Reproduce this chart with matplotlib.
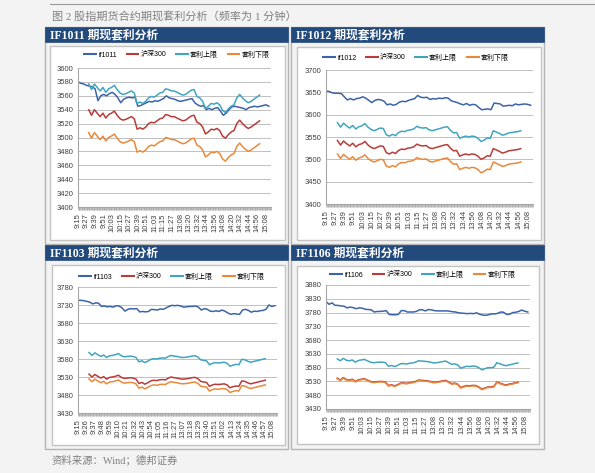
import numpy as np
import pandas as pd
import matplotlib
matplotlib.use("Agg")
import matplotlib.pyplot as plt
from matplotlib.patches import Rectangle
from matplotlib.lines import Line2D

plt.rcParams["font.family"] = ["Liberation Sans", "Noto Sans CJK SC"]

W, H = 595, 473

# trading minutes: 9:15-11:30 and 13:00-15:15
am = pd.date_range("2010-10-15 09:15", "2010-10-15 11:30", freq="min")
pm = pd.date_range("2010-10-15 13:00", "2010-10-15 15:15", freq="min")
times = [f"{t.hour}:{t.minute:02d}" for t in am.append(pm)]

fut_pos = np.arange(0, len(times), 4)   # futures, every 4 min
spot_pos = np.arange(15, 257, 4)        # spot 9:30 - 15:00, every 4 min

# ---- IF1011 ----
if1011 = [3580, 3578, 3577, 3575, 3574, 3573, 3570, 3553, 3560, 3562,
          3560, 3563, 3565, 3562, 3557, 3550, 3555, 3557, 3558, 3557,
          3558, 3545, 3546, 3548, 3550, 3552, 3551, 3553, 3552, 3554,
          3556, 3560, 3557, 3556, 3555, 3553, 3552, 3553, 3554, 3555,
          3556, 3550, 3547, 3545, 3546, 3540, 3542, 3540, 3542, 3543,
          3538, 3532, 3535, 3540, 3544, 3545, 3544, 3543, 3542, 3540,
          3543, 3544, 3545, 3544, 3545, 3546, 3547, 3545]
hs300_1 = [3540, 3532, 3540, 3535, 3530, 3535, 3528, 3533, 3535, 3538,
           3532, 3527, 3525, 3526, 3528, 3530, 3527, 3512, 3514, 3512,
           3515, 3520, 3522, 3521, 3524, 3527, 3528, 3533, 3532, 3530,
           3530, 3528, 3526, 3524, 3525, 3528, 3531, 3532, 3522, 3520,
           3515, 3505, 3508, 3512, 3511, 3513, 3510, 3502, 3499, 3504,
           3508, 3510, 3520, 3525, 3520, 3516, 3513, 3515, 3518, 3521,
           3524]
up_1 = [3577, 3569, 3577, 3572, 3567, 3572, 3565, 3570, 3572, 3575,
        3569, 3564, 3562, 3563, 3565, 3567, 3564, 3549, 3551, 3549,
        3552, 3557, 3559, 3558, 3561, 3564, 3565, 3570, 3569, 3567,
        3567, 3565, 3563, 3561, 3562, 3565, 3568, 3569, 3559, 3557,
        3552, 3542, 3545, 3549, 3548, 3550, 3547, 3539, 3536, 3541,
        3545, 3547, 3557, 3562, 3557, 3553, 3550, 3552, 3555, 3558,
        3561]
low_1 = [3507, 3499, 3507, 3502, 3497, 3502, 3495, 3500, 3502, 3505,
         3499, 3494, 3492, 3493, 3495, 3497, 3494, 3479, 3481, 3479,
         3482, 3487, 3489, 3488, 3491, 3494, 3495, 3500, 3499, 3497,
         3497, 3495, 3493, 3491, 3492, 3495, 3498, 3499, 3489, 3487,
         3482, 3472, 3475, 3479, 3478, 3480, 3477, 3469, 3466, 3471,
         3475, 3477, 3487, 3492, 3487, 3483, 3480, 3482, 3485, 3488,
         3491]

# ---- IF1012 ----
if1012 = [3653, 3652, 3649, 3648, 3648, 3647, 3640, 3633, 3636, 3633,
          3636, 3637, 3640, 3637, 3632, 3627, 3632, 3634, 3633, 3630,
          3622, 3624, 3621, 3623, 3628, 3630, 3629, 3632, 3634, 3636,
          3643, 3639, 3638, 3639, 3634, 3636, 3635, 3637, 3636, 3638,
          3637, 3631, 3629, 3627, 3624, 3622, 3625, 3621, 3623, 3622,
          3616, 3611, 3612, 3613, 3611, 3626, 3625, 3624, 3619, 3620,
          3621, 3620, 3624, 3622, 3623, 3624, 3623, 3621]
hs300_2 = [3542, 3532, 3541, 3535, 3530, 3536, 3528, 3533, 3535, 3540,
           3532, 3527, 3524, 3527, 3530, 3529, 3515, 3512, 3516, 3513,
           3520, 3523, 3522, 3525, 3526, 3528, 3534, 3531, 3530, 3531,
           3526, 3524, 3526, 3528, 3530, 3532, 3533, 3525, 3519, 3520,
           3507, 3510, 3512, 3510, 3512, 3511, 3507, 3500, 3503, 3508,
           3507, 3524, 3521, 3518, 3514, 3516, 3519, 3520, 3521, 3522,
           3524]
up_2 = [3582, 3572, 3581, 3575, 3570, 3576, 3568, 3573, 3575, 3580,
        3572, 3567, 3564, 3567, 3570, 3569, 3555, 3552, 3556, 3553,
        3560, 3563, 3562, 3565, 3566, 3568, 3574, 3571, 3570, 3571,
        3566, 3564, 3566, 3568, 3570, 3572, 3573, 3565, 3559, 3560,
        3547, 3550, 3552, 3550, 3552, 3551, 3547, 3540, 3543, 3548,
        3547, 3564, 3561, 3558, 3554, 3556, 3559, 3560, 3561, 3562,
        3564]
low_2 = [3512, 3502, 3511, 3505, 3500, 3506, 3498, 3503, 3505, 3510,
         3502, 3497, 3494, 3497, 3500, 3499, 3485, 3482, 3486, 3483,
         3490, 3493, 3492, 3495, 3496, 3498, 3504, 3501, 3500, 3501,
         3496, 3494, 3496, 3498, 3500, 3502, 3503, 3495, 3489, 3490,
         3477, 3480, 3482, 3480, 3482, 3481, 3477, 3470, 3473, 3478,
         3477, 3494, 3491, 3488, 3484, 3486, 3489, 3490, 3491, 3492,
         3494]

# ---- IF1103 ----
if1103 = [3743, 3743, 3742, 3740, 3738, 3733, 3736, 3735, 3726, 3727,
          3725, 3726, 3724, 3728, 3727, 3722, 3713, 3718, 3720, 3719,
          3720, 3711, 3712, 3711, 3712, 3718, 3717, 3716, 3719, 3718,
          3722, 3726, 3729, 3728, 3729, 3727, 3724, 3725, 3726, 3726,
          3727, 3724, 3716, 3720, 3718, 3713, 3712, 3714, 3712, 3716,
          3713, 3708, 3704, 3706, 3705, 3704, 3716, 3718, 3715, 3710,
          3713, 3712, 3714, 3715, 3718, 3730, 3726, 3728]
hs300_3 = [3538, 3530, 3537, 3532, 3527, 3531, 3524, 3529, 3530, 3532,
           3535, 3529, 3526, 3527, 3528, 3527, 3524, 3512, 3515, 3510,
           3514, 3519, 3521, 3520, 3522, 3523, 3522, 3527, 3530, 3528,
           3527, 3525, 3524, 3525, 3526, 3528, 3529, 3526, 3518, 3516,
           3515, 3504, 3508, 3510, 3509, 3510, 3511, 3508, 3500, 3503,
           3505, 3504, 3519, 3518, 3514, 3511, 3513, 3515, 3517, 3519,
           3521]
up_3 = [3598, 3590, 3597, 3592, 3587, 3591, 3584, 3589, 3590, 3592,
        3595, 3589, 3586, 3587, 3588, 3587, 3584, 3572, 3575, 3570,
        3574, 3579, 3581, 3580, 3582, 3583, 3582, 3587, 3590, 3588,
        3587, 3585, 3584, 3585, 3586, 3588, 3589, 3586, 3578, 3576,
        3575, 3564, 3568, 3570, 3569, 3570, 3571, 3568, 3560, 3563,
        3565, 3564, 3579, 3578, 3574, 3571, 3573, 3575, 3577, 3579,
        3581]
low_3 = [3525, 3517, 3524, 3519, 3514, 3518, 3511, 3516, 3517, 3519,
         3522, 3516, 3513, 3514, 3515, 3514, 3511, 3499, 3502, 3497,
         3501, 3506, 3508, 3507, 3509, 3510, 3509, 3514, 3517, 3515,
         3514, 3512, 3511, 3512, 3513, 3515, 3516, 3513, 3505, 3503,
         3502, 3491, 3495, 3497, 3496, 3497, 3498, 3495, 3487, 3490,
         3492, 3491, 3506, 3505, 3501, 3498, 3500, 3502, 3504, 3506,
         3508]

# ---- IF1106 ----
if1106 = [3820, 3810, 3815, 3806, 3806, 3804, 3803, 3797, 3800, 3798,
          3794, 3797, 3796, 3792, 3791, 3790, 3782, 3784, 3784, 3785,
          3787, 3773, 3772, 3772, 3773, 3787, 3787, 3782, 3782, 3782,
          3784, 3790, 3790, 3786, 3791, 3790, 3787, 3786, 3786, 3786,
          3786, 3785, 3783, 3782, 3779, 3778, 3777, 3776, 3777, 3776,
          3779, 3774, 3771, 3770, 3772, 3775, 3775, 3777, 3782, 3781,
          3773, 3774, 3780, 3781, 3784, 3789, 3785, 3782]
hs300_4 = [3542, 3535, 3544, 3537, 3535, 3538, 3530, 3536, 3538, 3540,
           3535, 3530, 3528, 3529, 3530, 3530, 3528, 3515, 3518, 3514,
           3518, 3524, 3525, 3523, 3526, 3527, 3530, 3535, 3534, 3533,
           3532, 3530, 3527, 3528, 3530, 3532, 3534, 3528, 3522, 3524,
           3520, 3508, 3512, 3515, 3514, 3516, 3515, 3510, 3502, 3506,
           3510, 3510, 3512, 3528, 3524, 3520, 3517, 3520, 3522, 3525,
           3527]
up_4 = [3612, 3605, 3614, 3607, 3605, 3608, 3600, 3606, 3608, 3610,
        3605, 3600, 3598, 3599, 3600, 3600, 3598, 3585, 3588, 3584,
        3588, 3594, 3595, 3593, 3596, 3597, 3600, 3605, 3604, 3603,
        3602, 3600, 3597, 3598, 3600, 3602, 3604, 3598, 3592, 3594,
        3590, 3578, 3582, 3585, 3584, 3586, 3585, 3580, 3572, 3576,
        3580, 3580, 3582, 3598, 3594, 3590, 3587, 3590, 3592, 3595,
        3597]
low_4 = [3540, 3533, 3542, 3535, 3533, 3536, 3528, 3534, 3536, 3538,
         3533, 3528, 3526, 3527, 3528, 3528, 3526, 3513, 3516, 3512,
         3516, 3522, 3523, 3521, 3524, 3525, 3528, 3533, 3532, 3531,
         3530, 3528, 3525, 3526, 3528, 3530, 3532, 3526, 3520, 3522,
         3518, 3506, 3510, 3513, 3512, 3514, 3513, 3508, 3500, 3504,
         3508, 3508, 3510, 3526, 3522, 3518, 3515, 3518, 3520, 3523,
         3525]

titles = ["IF1011 期现套利分析", "IF1012 期现套利分析",
          "IF1103 期现套利分析", "IF1106 期现套利分析"]
fut_names = ["if1011", "if1012", "if1103", "if1106"]
series_names = ["沪深300", "套利上限", "套利下限"]
yticks_list = [np.arange(3400, 3601, 20), np.arange(3400, 3701, 50),
               np.arange(3430, 3781, 50), np.arange(3430, 3881, 50)]
label_step = [12, 12, 11, 12]

colors = ["#3c64a8", "#b83c3a", "#41a5bf", "#e9893b"]
navy = "#234a7c"


def fig_rect(x0, y0, x1, y1):
    return [x0 / W, 1 - y1 / H, (x1 - x0) / W, (y1 - y0) / H]


def add_box(x0, y0, x1, y1, fc, ec, lw=0.8):
    fig.add_artist(Rectangle((x0 / W, 1 - y1 / H), (x1 - x0) / W, (y1 - y0) / H,
                             transform=fig.transFigure, facecolor=fc,
                             edgecolor=ec, linewidth=lw, zorder=-10))


fig = plt.figure(figsize=(W / 100, H / 100), dpi=100)
fig.patch.set_facecolor("#f3f3f3")

# top rule and caption
fig.add_artist(Line2D([50 / W, 1], [1 - 4.5 / H] * 2, transform=fig.transFigure,
                      color="#9a9a9a", lw=0.8))
fig.text(52 / W, 1 - 17 / H, "图 2 股指期货合约期现套利分析（频率为 1 分钟）",
         fontsize=8, color="#808080", va="center",
         family=["Liberation Serif", "Noto Sans CJK SC"])
fig.text(52 / W, 1 - 460 / H, "资料来源：Wind；德邦证券",
         fontsize=7.5, color="#808080", va="center",
         family=["Liberation Serif", "Noto Sans CJK SC"])

# panel frames (outer, header, inner box) in pixels
outer = [(45, 27, 288, 244), (291, 27, 544, 244),
         (45, 245, 288, 449), (291, 245, 544, 449)]
header_h = 15
inner = [(50, 46, 285, 240), (297, 47, 541, 240),
         (52, 265, 285, 445), (297, 266, 539, 444)]
plot_px = [(78, 68, 271, 207), (326, 70, 533, 204),
           (78, 287, 277, 413), (326, 285, 530, 409)]
legend_px = [(177, 55), (416, 58), (172, 277), (423, 275)]

data = [(if1011, hs300_1, up_1, low_1), (if1012, hs300_2, up_2, low_2),
        (if1103, hs300_3, up_3, low_3), (if1106, hs300_4, up_4, low_4)]

for i in range(4):
    x0, y0, x1, y1 = outer[i]
    add_box(x0, y0, x1, y1, "#f3f3f3", "#b5b5b5", 1.0)
    add_box(x0, y0, x1, y0 + header_h, navy, navy, 0.5)
    fig.text((x0 + 5) / W, 1 - (y0 + header_h / 2 + 0.5) / H, titles[i],
             color="white", fontsize=8.5, fontweight="bold", va="center",
             family=["Liberation Serif", "Noto Sans CJK SC"])
    add_box(*inner[i], "white", "#c4c4c4", 1.0)

    ax = fig.add_axes(fig_rect(*plot_px[i]))
    ax.set_facecolor("white")
    fut, hs, up, low = data[i]
    ax.plot(fut_pos, fut, color=colors[0], lw=1.1)
    ax.plot(spot_pos, hs, color=colors[1], lw=1.1)
    ax.plot(spot_pos, up, color=colors[2], lw=1.1)
    ax.plot(spot_pos, low, color=colors[3], lw=1.1)

    yt = yticks_list[i]
    ax.set_ylim(yt[0], yt[-1])
    ax.set_yticks(yt)
    ax.set_xlim(0, len(times) - 1)
    lab_pos = np.arange(0, len(times) - 6, label_step[i])
    ax.set_xticks(lab_pos)
    ax.set_xticklabels([times[p] for p in lab_pos], rotation=90)
    ax.set_xticks(np.arange(len(times)), minor=True)

    ax.grid(axis="y", color="#c0c0c0", lw=0.7)
    ax.set_axisbelow(True)
    for s in ["top", "right"]:
        ax.spines[s].set_visible(False)
    for s in ["left", "bottom"]:
        ax.spines[s].set_color("#a6a6a6")
        ax.spines[s].set_linewidth(0.8)
    ax.tick_params(axis="x", which="both", length=2.5, color="#a6a6a6",
                   width=0.5, labelsize=5.5, labelcolor="#404040", pad=2)
    ax.tick_params(axis="y", length=0, labelsize=5.5, labelcolor="#404040", pad=3)

    handles = [Line2D([], [], color=c, lw=1.5) for c in colors]
    cx, cy = legend_px[i]
    ax.legend(handles, [fut_names[i]] + series_names, loc="center",
              bbox_to_anchor=(cx / W, 1 - cy / H), bbox_transform=fig.transFigure,
              ncol=4, frameon=False, fontsize=5, handlelength=1.7,
              handletextpad=0.3, columnspacing=1.4, borderpad=0)

fig.savefig("out.png", dpi=100, facecolor=fig.get_facecolor())
